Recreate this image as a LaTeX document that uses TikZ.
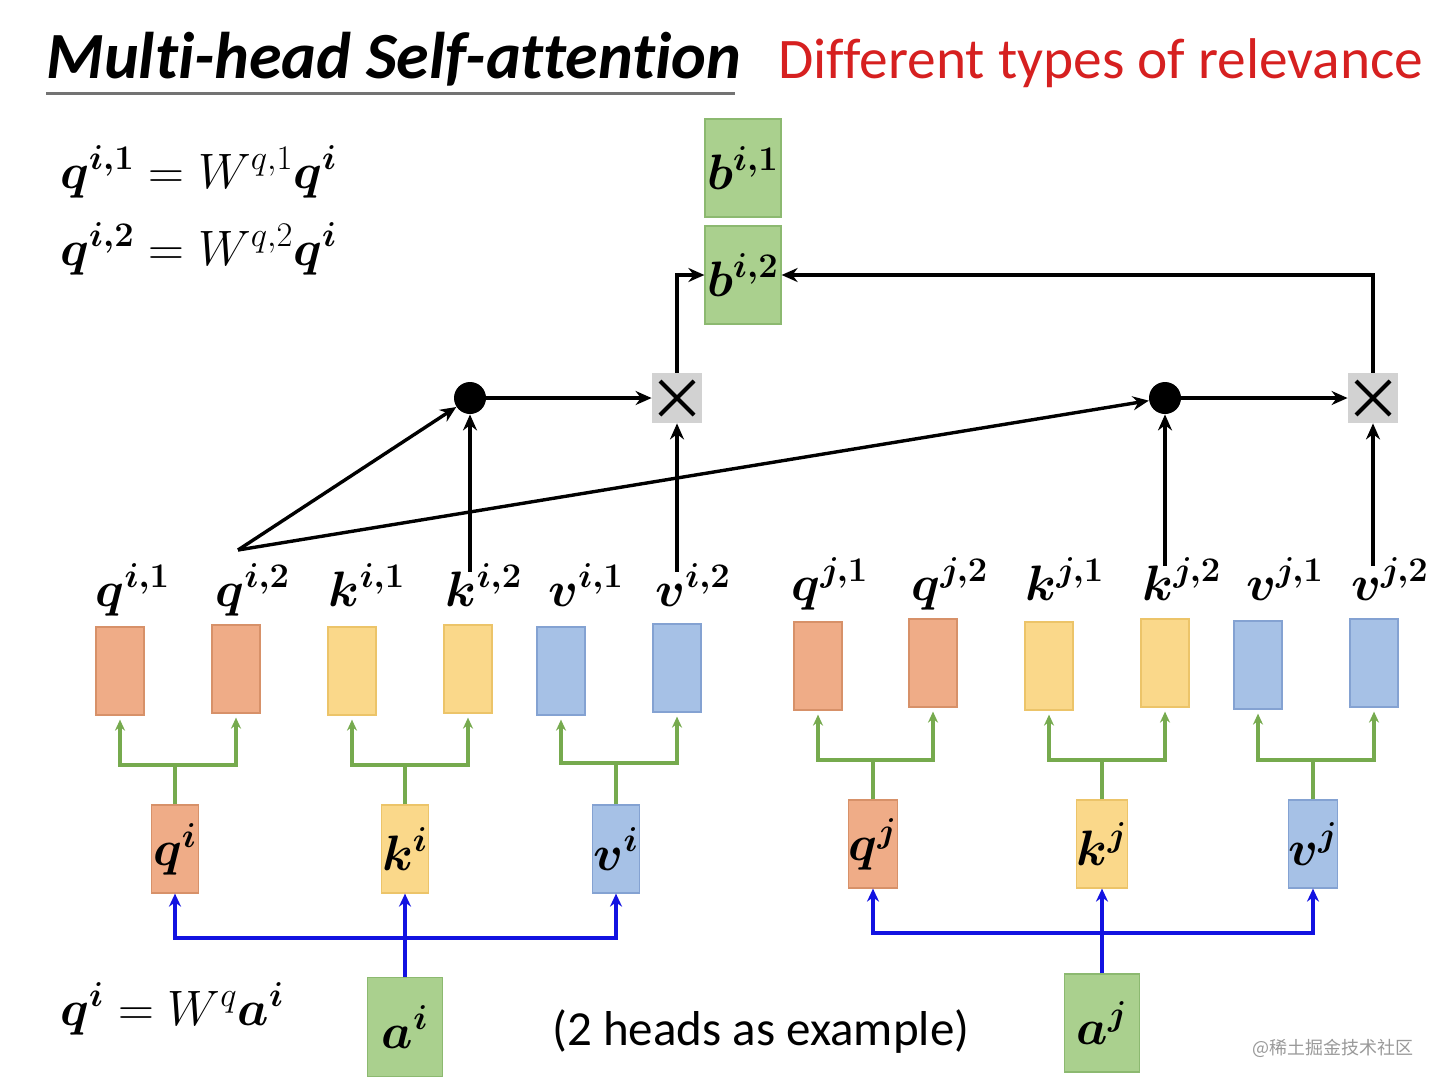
\documentclass[tikz,border=0pt]{standalone}
\usepackage{amsmath}
\usepackage{bm}
\usepackage{fontspec}
\newfontfamily\carlito[Ligatures=NoCommon]{Carlito}
\newfontfamily\cjk{Noto Sans CJK SC}
\usetikzlibrary{arrows.meta}
\definecolor{qfill}{RGB}{239,172,135}
\definecolor{qdraw}{RGB}{215,145,105}
\definecolor{kfill}{RGB}{250,216,138}
\definecolor{kdraw}{RGB}{236,196,105}
\definecolor{vfill}{RGB}{166,193,230}
\definecolor{vdraw}{RGB}{132,162,210}
\definecolor{gfill}{RGB}{170,208,142}
\definecolor{gdraw}{RGB}{140,185,112}
\definecolor{garrow}{RGB}{118,170,78}
\definecolor{barrow}{RGB}{18,18,225}
\definecolor{redtxt}{RGB}{214,32,32}
\definecolor{xfill}{RGB}{210,210,210}
\begin{document}
\begin{tikzpicture}[x=0.5pt,y=-0.5pt,
  vec/.style={rectangle,minimum width=24pt,minimum height=44pt,inner sep=0pt,line width=0.6pt},
  qv/.style={vec,fill=qfill,draw=qdraw},
  kv/.style={vec,fill=kfill,draw=kdraw},
  vv/.style={vec,fill=vfill,draw=vdraw},
  mid/.style={rectangle,minimum width=23.5pt,minimum height=44pt,inner sep=0pt,line width=0.6pt,font=\fontsize{26}{30}\selectfont},
  gbox/.style={rectangle,minimum width=38pt,minimum height=49pt,inner sep=0pt,line width=0.6pt,fill=gfill,draw=gdraw,font=\fontsize{26}{30}\selectfont},
  lab/.style={anchor=base,inner sep=0pt,font=\fontsize{27}{30}\selectfont},
  dotnode/.style={circle,fill=black,minimum size=16pt,inner sep=0pt},
  xbox/.style={rectangle,fill=xfill,minimum size=25pt,inner sep=0pt,
    path picture={\draw[line width=2pt]
      ([shift={(-8.5pt,8.5pt)}]path picture bounding box.center) -- ([shift={(8.5pt,-8.5pt)}]path picture bounding box.center)
      ([shift={(-8.5pt,-8.5pt)}]path picture bounding box.center) -- ([shift={(8.5pt,8.5pt)}]path picture bounding box.center);}},
  blk/.style={-{Stealth[length=8pt,width=7pt]},line width=1.7pt,black},
  grn/.style={-{Stealth[length=5.5pt,width=5pt]},line width=1.8pt,garrow},
  grnl/.style={line width=1.8pt,garrow},
  blu/.style={-{Stealth[length=6.5pt,width=6pt]},line width=2pt,barrow},
  frm/.style={anchor=base west,inner sep=0pt,font=\fontsize{25}{30}\selectfont}
]
\useasboundingbox (0,0) rectangle (1440,1088);

% title
\node[anchor=base west,inner sep=0pt,font=\carlito\bfseries\itshape\fontsize{33}{40}\selectfont] (title) at (46,78) {Multi-head Self-attention};
\coordinate (ul1) at (46,93);
\coordinate (ul2) at (735,93);
\draw[line width=1.5pt,black!55] (ul1) -- (ul2);
\node[anchor=base west,inner sep=0pt,text=redtxt,font=\carlito\fontsize{28.7}{34}\selectfont] (sub) at (778,78) {Different types of relevance};

% formulas
\node[frm] (f1) at (60,188) {$\bm{q^{i,1}} = W^{q,1}\bm{q^{i}}$};
\node[frm] (f2) at (60,265) {$\bm{q^{i,2}} = W^{q,2}\bm{q^{i}}$};
\node[frm] (f3) at (60,1025) {$\bm{q^{i}} = W^{q}\bm{a^{i}}$};

% output boxes
\node[gbox] (bi1) at (743,168) {$\bm{b^{i,1}}$};
\node[gbox] (bi2) at (743,275) {$\bm{b^{i,2}}$};

% dots and multipliers
\node[dotnode] (d1) at (470,398) {};
\node[xbox] (x1) at (677,398) {};
\node[dotnode] (d2) at (1165,398) {};
\node[xbox] (x2) at (1373,398) {};

% labels row
\node[lab] (lqi1) at (133,606) {$\bm{q^{i,1}}$};
\node[lab] (lqi2) at (253,606) {$\bm{q^{i,2}}$};
\node[lab] (lki1) at (367,606) {$\bm{k^{i,1}}$};
\node[lab] (lki2) at (484,606) {$\bm{k^{i,2}}$};
\node[lab] (lvi1) at (586,606) {$\bm{v^{i,1}}$};
\node[lab] (lvi2) at (693,606) {$\bm{v^{i,2}}$};
\node[lab] (lqj1) at (830,600) {$\bm{q^{j,1}}$};
\node[lab] (lqj2) at (950,600) {$\bm{q^{j,2}}$};
\node[lab] (lkj1) at (1065,600) {$\bm{k^{j,1}}$};
\node[lab] (lkj2) at (1182,600) {$\bm{k^{j,2}}$};
\node[lab] (lvj1) at (1285,600) {$\bm{v^{j,1}}$};
\node[lab] (lvj2) at (1390,600) {$\bm{v^{j,2}}$};

% vectors
\node[qv] (qi1) at (120,671) {};
\node[qv] (qi2) at (236,669) {};
\node[kv] (ki1) at (352,671) {};
\node[kv] (ki2) at (468,669) {};
\node[vv] (vi1) at (561,671) {};
\node[vv] (vi2) at (677,668) {};
\node[qv] (qj1) at (818,666) {};
\node[qv] (qj2) at (933,663) {};
\node[kv] (kj1) at (1049,666) {};
\node[kv] (kj2) at (1165,663) {};
\node[vv] (vj1) at (1258,665) {};
\node[vv] (vj2) at (1374,663) {};

% middle boxes
\node[mid,fill=qfill,draw=qdraw] (qi) at (175,849) {$\bm{q^{i}}$};
\node[mid,fill=kfill,draw=kdraw] (ki) at (405,849) {$\bm{k^{i}}$};
\node[mid,fill=vfill,draw=vdraw] (vi) at (616,849) {$\bm{v^{i}}$};
\node[mid,fill=qfill,draw=qdraw] (qj) at (873,844) {$\bm{q^{j}}$};
\node[mid,fill=kfill,draw=kdraw] (kj) at (1102,844) {$\bm{k^{j}}$};
\node[mid,fill=vfill,draw=vdraw] (vj) at (1313,844) {$\bm{v^{j}}$};

% inputs
\node[gbox,minimum width=37.5pt,minimum height=49.5pt] (ai) at (405,1027) {$\bm{a^{i}}$};
\node[gbox,minimum width=37.5pt,minimum height=49pt] (aj) at (1102,1023) {$\bm{a^{j}}$};

\node[anchor=base west,inner sep=0pt,font=\carlito\fontsize{24.5}{28}\selectfont] (note) at (552,1045) {(2 heads as example)};
\node[anchor=west,inner sep=0pt,text=black!40,font=\cjk\fontsize{9}{11}\selectfont] (wm) at (1252,1048) {@稀土掘金技术社区};

% green splits
\coordinate (gqi) at (175,765);
\coordinate (gki) at (405,765);
\coordinate (gvi) at (616,763);
\coordinate (gqj) at (873,760);
\coordinate (gkj) at (1102,760);
\coordinate (gvj) at (1313,760);
\foreach \m/\a/\b/\g in {qi/qi1/qi2/gqi,ki/ki1/ki2/gki,vi/vi1/vi2/gvi,qj/qj1/qj2/gqj,kj/kj1/kj2/gkj,vj/vj1/vj2/gvj}{
  \draw[grnl] (\m.north) -- (\g);
  \draw[grn] (\g) -| ([yshift=-2pt]\a.south);
  \draw[grn] (\g) -| ([yshift=-2pt]\b.south);
}

% blue
\coordinate (bsi) at (405,938);
\coordinate (bsj) at (1102,933);
\draw[blu] (ai.north) -- (ki.south);
\draw[blu] (bsi) -| (qi.south);
\draw[blu] (bsi) -| (vi.south);
\draw[blu] (aj.north) -- (kj.south);
\draw[blu] (bsj) -| (qj.south);
\draw[blu] (bsj) -| (vj.south);

% attention
\coordinate (sq) at (238,550);
\draw[blk] (sq) -- (d1);
\draw[blk] (sq) -- (d2);
\draw[blk] ([yshift=-4pt]lki2.north -| d1) -- (d1);
\draw[blk] ([yshift=-4pt]lvi2.north -| x1) -- (x1);
\draw[blk] ([yshift=-4pt]lkj2.north -| d2) -- (d2);
\draw[blk] ([yshift=-4pt]lvj2.north -| x2) -- (x2);
\draw[blk] (d1) -- (x1);
\draw[blk] (d2) -- (x2);
\draw[blk] (x1.north) |- (bi2.west);
\draw[blk] (x2.north) |- (bi2.east);
\end{tikzpicture}
\end{document}
